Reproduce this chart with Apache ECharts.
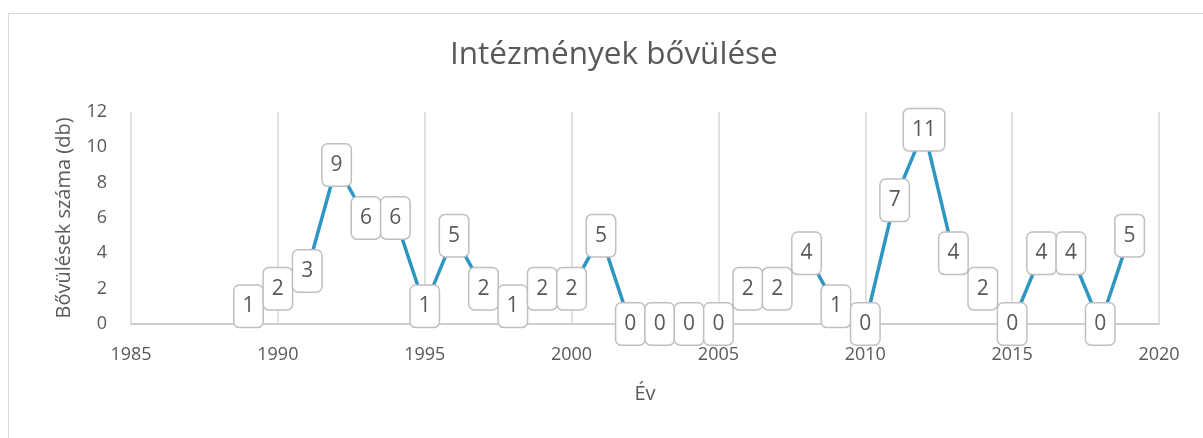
<!DOCTYPE html>
<html>
<head>
<meta charset="utf-8">
<script src="https://cdn.jsdelivr.net/npm/echarts@6/dist/echarts.min.js"></script>
<style>
  html, body { margin: 0; padding: 0; background: #fff; }
  #frame {
    position: absolute;
    left: 8px;
    top: 13px;
    width: 1400px;
    height: 600px;
    border: 1px solid #d9d9d9;
  }
  #chart {
    position: absolute;
    left: 0;
    top: 0;
    width: 1203px;
    height: 438px;
  }
</style>
</head>
<body>
<div id="frame"></div>
<div id="chart"></div>
<script>
// years and number of expansions per year
const years = [1989, 1990, 1991, 1992, 1993, 1994, 1995, 1996, 1997, 1998, 1999, 2000,
  2001, 2002, 2003, 2004, 2005, 2006, 2007, 2008, 2009, 2010, 2011, 2012, 2013, 2014,
  2015, 2016, 2017, 2018, 2019]
const counts = [1, 2, 3, 9, 6, 6, 1, 5, 2, 1, 2, 2,
  5, 0, 0, 0, 0, 2, 2, 4, 1, 0, 7, 11, 4, 2,
  0, 4, 4, 0, 5]
const xTicks = [1985, 2020, 5]   // min, max, step
const yTicks = [0, 12, 2]

const font = '"Open Sans", "Noto Sans", sans-serif'
const grey = '#595959'

let myChart = echarts.init(document.getElementById('chart'))
let option = {
  animation: false,
  title: {
    text: 'Intézmények bővülése',
    left: 445,
    top: 34,
    textStyle: {
      fontFamily: font,
      fontSize: 31.5,
      fontWeight: 'normal',
      color: grey
    }
  },
  grid: {
    left: 131,
    right: 44,
    top: 112,
    bottom: 114
  },
  xAxis: {
    type: 'value',
    min: xTicks[0],
    max: xTicks[1],
    interval: xTicks[2],
    name: 'Év',
    nameLocation: 'middle',
    nameGap: 60,
    nameTextStyle: { fontFamily: font, fontSize: 20, color: grey },
    axisLine: { lineStyle: { color: '#bfbfbf', width: 1.5 } },
    axisTick: { show: false },
    axisLabel: {
      fontFamily: font,
      fontSize: 18,
      color: grey,
      margin: 22,
      formatter: v => String(v)
    },
    splitLine: { show: true, lineStyle: { color: '#d9d9d9', width: 1.5 } }
  },
  yAxis: {
    type: 'value',
    min: yTicks[0],
    max: yTicks[1],
    interval: yTicks[2],
    name: 'Bővülések száma (db)',
    nameLocation: 'middle',
    nameGap: 57,
    nameTextStyle: { fontFamily: font, fontSize: 20, color: grey },
    axisLine: { show: false },
    axisTick: { show: false },
    axisLabel: { fontFamily: font, fontSize: 18, color: grey, margin: 24 },
    splitLine: { show: false }
  },
  series: [
    {
      type: 'line',
      data: years.map((y, i) => [y, counts[i]]),
      showSymbol: true,
      symbol: 'circle',
      symbolSize: 1,
      itemStyle: { color: 'rgba(0,0,0,0)' },
      lineStyle: { color: '#2e96c0', width: 3.5 },
      label: {
        show: true,
        position: 'inside',
        fontFamily: font,
        fontSize: 21,
        color: grey,
        backgroundColor: '#fff',
        borderColor: '#bfbfbf',
        borderWidth: 1.5,
        borderRadius: 5,
        lineHeight: 25,
        padding: [8, 8]
      }
    }
  ]
}
myChart.setOption(option)
</script>
</body>
</html>
